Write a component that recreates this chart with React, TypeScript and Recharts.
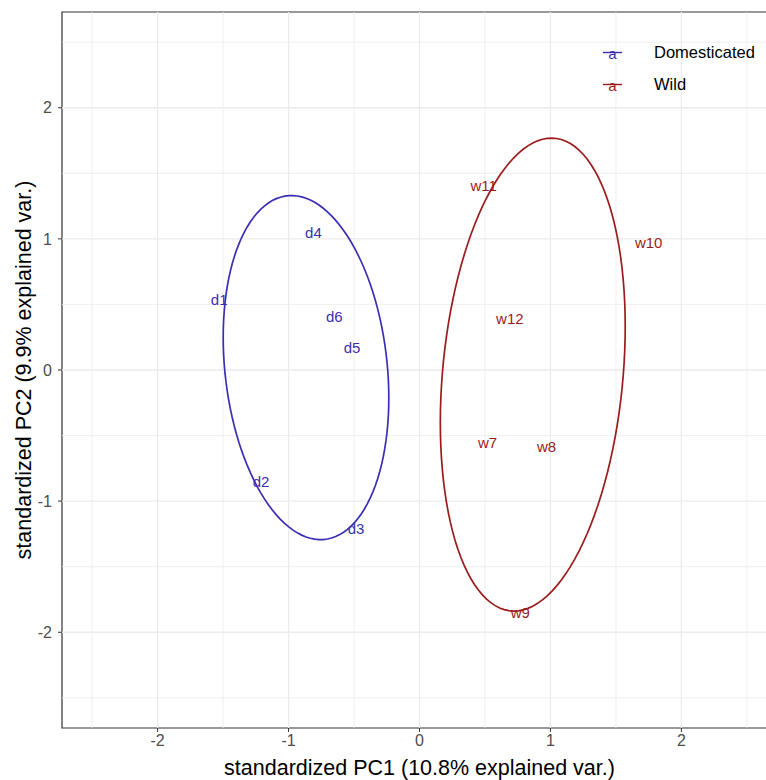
import React from "react";
import {
  ScatterChart,
  Scatter,
  XAxis,
  YAxis,
  ReferenceLine,
  ReferenceArea,
} from "recharts";

// sample scores
const domesticatedLabels = ["d1", "d2", "d3", "d4", "d5", "d6"];
const domesticatedPC1 = [-1.53, -1.21, -0.485, -0.81, -0.515, -0.65];
const domesticatedPC2 = [0.54, -0.85, -1.21, 1.05, 0.17, 0.41];

const wildLabels = ["w7", "w8", "w9", "w10", "w11", "w12"];
const wildPC1 = [0.52, 0.97, 0.77, 1.75, 0.49, 0.69];
const wildPC2 = [-0.55, -0.58, -1.85, 0.97, 1.41, 0.39];

const groupNames = ["Domesticated", "Wild"];
const groupColors = ["#3a2fb3", "#9b1c1c"];

const majorTicks = [-2, -1, 0, 1, 2];
const minorTicks = [-2.5, -1.5, -0.5, 0.5, 1.5, 2.5];
const axisLimit = 2.73;
const ellipseProb = 0.68;

const FONT = "'Liberation Sans', Arial, sans-serif";

function toPoints(labels: string[], xs: number[], ys: number[]) {
  return labels.map((name, i) => ({ name, x: xs[i], y: ys[i] }));
}

// normal-theory data ellipse like ggbiplot (chol of the group covariance)
function dataEllipse(xs: number[], ys: number[]) {
  const n = xs.length;
  const mx = xs.reduce((a, b) => a + b, 0) / n;
  const my = ys.reduce((a, b) => a + b, 0) / n;
  let sxx = 0, syy = 0, sxy = 0;
  for (let i = 0; i < n; i++) {
    sxx += (xs[i] - mx) ** 2;
    syy += (ys[i] - my) ** 2;
    sxy += (xs[i] - mx) * (ys[i] - my);
  }
  sxx /= n - 1; syy /= n - 1; sxy /= n - 1;
  const r11 = Math.sqrt(sxx);
  const r12 = sxy / r11;
  const r22 = Math.sqrt(syy - r12 * r12);
  const ed = Math.sqrt(-2 * Math.log(1 - ellipseProb));
  const pts = [];
  const steps = 120;
  for (let k = 0; k <= steps; k++) {
    const t = -Math.PI + (2 * Math.PI * k) / steps;
    const c = Math.cos(t), s = Math.sin(t);
    pts.push({ x: mx + ed * c * r11, y: my + ed * (c * r12 + s * r22) });
  }
  return pts;
}

const domesticated = toPoints(domesticatedLabels, domesticatedPC1, domesticatedPC2);
const wild = toPoints(wildLabels, wildPC1, wildPC2);
const domEllipse = dataEllipse(domesticatedPC1, domesticatedPC2);
const wildEllipse = dataEllipse(wildPC1, wildPC2);

const labelShape = (color: string) => (props: any) => (
  <text
    x={props.cx}
    y={props.cy}
    textAnchor="middle"
    dominantBaseline="central"
    fontSize={15}
    fontFamily={FONT}
    fill={color}
  >
    {props.payload.name}
  </text>
);

const noDot = () => <g />;

function LegendBox() {
  return (
    <div style={{ position: "absolute", left: 598, top: 36, fontFamily: FONT }}>
      {groupNames.map((g, i) => (
        <div key={g} style={{ display: "flex", alignItems: "center", height: 32 }}>
          <svg width={30} height={24}>
            <line x1={5} x2={24} y1={12.5} y2={12.5} stroke={groupColors[i]} strokeWidth={1.4} />
            <text x={14.5} y={13.5} textAnchor="middle" dominantBaseline="central" fontSize={15} fill={groupColors[i]} fontFamily={FONT}>
              a
            </text>
          </svg>
          <span style={{ marginLeft: 26, fontSize: 16.5, color: "#000" }}>{g}</span>
        </div>
      ))}
    </div>
  );
}

export default function App() {
  const tickStyle = { fontSize: 16, fill: "#4d4d4d", fontFamily: FONT };
  return (
    <div style={{ position: "absolute", left: 0, top: 0, width: 766, height: 780, overflow: "hidden", background: "#fff" }}>
      <ScatterChart width={780} height={780} margin={{ top: 12, right: 3, bottom: 0, left: 0 }}>
        <XAxis
          type="number"
          dataKey="x"
          domain={[-axisLimit, axisLimit]}
          ticks={majorTicks}
          tick={tickStyle}
          tickSize={4}
          tickMargin={3}
          tickLine={{ stroke: "#333" }}
          axisLine={false}
          height={52}
          allowDataOverflow
          label={(p: any) => {
            const vb = p.viewBox;
            return (
              <text x={vb.x + vb.width / 2} y={775} textAnchor="middle" fontSize={21.5} fontFamily={FONT} fill="#000">
                standardized PC1 (10.8% explained var.)
              </text>
            );
          }}
        />
        <YAxis
          type="number"
          dataKey="y"
          domain={[-axisLimit, axisLimit]}
          ticks={majorTicks}
          tick={tickStyle}
          tickSize={4}
          tickMargin={6}
          tickLine={{ stroke: "#333" }}
          axisLine={false}
          width={62}
          allowDataOverflow
          label={(p: any) => {
            const vb = p.viewBox;
            const cy = vb.y + vb.height / 2;
            return (
              <text x={24} y={cy} transform={`rotate(-90 24 ${cy})`} textAnchor="middle" dominantBaseline="central" fontSize={21.5} fontFamily={FONT} fill="#000">
                standardized PC2 (9.9% explained var.)
              </text>
            );
          }}
        />
        {minorTicks.map((v) => (
          <ReferenceLine key={"mx" + v} x={v} stroke="#ebebeb" strokeWidth={0.8} />
        ))}
        {minorTicks.map((v) => (
          <ReferenceLine key={"my" + v} y={v} stroke="#ebebeb" strokeWidth={0.8} />
        ))}
        {majorTicks.map((v) => (
          <ReferenceLine key={"Mx" + v} x={v} stroke="#ebebeb" strokeWidth={1.3} />
        ))}
        {majorTicks.map((v) => (
          <ReferenceLine key={"My" + v} y={v} stroke="#ebebeb" strokeWidth={1.3} />
        ))}
        <ReferenceArea
          x1={-axisLimit}
          x2={axisLimit}
          y1={-axisLimit}
          y2={axisLimit}
          fill="none"
          stroke="#333"
          strokeWidth={1.2}
        />
        <Scatter
          data={domEllipse}
          line={{ stroke: groupColors[0], strokeWidth: 1.7 }}
          shape={noDot}
          legendType="none"
          isAnimationActive={false}
        />
        <Scatter
          data={wildEllipse}
          line={{ stroke: groupColors[1], strokeWidth: 1.7 }}
          shape={noDot}
          legendType="none"
          isAnimationActive={false}
        />
        <Scatter name="Domesticated" data={domesticated} shape={labelShape(groupColors[0])} isAnimationActive={false} />
        <Scatter name="Wild" data={wild} shape={labelShape(groupColors[1])} isAnimationActive={false} />
      </ScatterChart>
      <LegendBox />
    </div>
  );
}
